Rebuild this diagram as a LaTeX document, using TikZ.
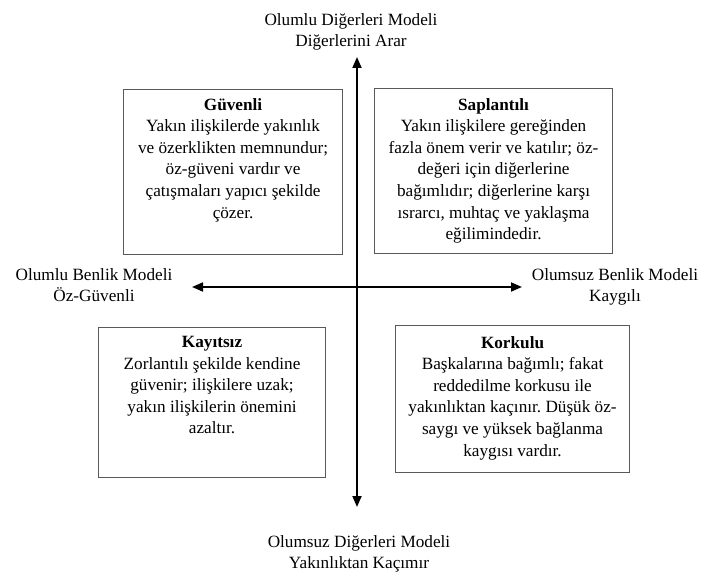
\documentclass[tikz,border=0pt]{standalone}
\usepackage{fontspec}
\setmainfont{Liberation Serif}
\usetikzlibrary{arrows.meta}
\frenchspacing
\begin{document}
\begin{tikzpicture}[x=1pt,y=-1pt,
  box/.style={draw=black!65,line width=1.1pt,inner sep=0pt,anchor=north west},
  boxtext/.style={align=center,inner sep=0pt,anchor=north,font=\fontsize{17.2}{21.6}\selectfont},
  lbl/.style={align=center,inner sep=0pt,anchor=north,font=\fontsize{17.2}{21.6}\selectfont},
  axis/.style={line width=1.8pt,{Triangle[length=11pt,width=9pt]}-{Triangle[length=11pt,width=9pt]}}]
\useasboundingbox (0,0) rectangle (702,572);
% boxes
\node[box,minimum width=219pt,minimum height=165pt] (g) at (123,89) {};
\node[box,minimum width=238pt,minimum height=165pt] (s) at (374,88) {};
\node[box,minimum width=227pt,minimum height=150pt] (k) at (98,327) {};
\node[box,minimum width=234pt,minimum height=147pt] (f) at (395,325) {};
% box texts
\node[boxtext] (gt) at ([yshift=-9pt]g.north) {\textbf{Güvenli}\\Yakın ilişkilerde yakınlık\\ve özerklikten memnundur;\\öz-güveni vardır ve\\çatışmaları yapıcı şekilde\\çözer.};
\node[boxtext] (st) at ([yshift=-10pt]s.north) {\textbf{Saplantılı}\\Yakın ilişkilere gereğinden\\fazla önem verir ve katılır; öz-\\değeri için diğerlerine\\bağımlıdır; diğerlerine karşı\\ısrarcı, muhtaç ve yaklaşma\\eğilimindedir.};
\node[boxtext] (kt) at ([yshift=-9pt]k.north) {\textbf{Kayıtsız}\\Zorlantılı şekilde kendine\\güvenir; ilişkilere uzak;\\yakın ilişkilerin önemini\\azaltır.};
\node[boxtext] (ft) at ([yshift=-11pt]f.north) {\textbf{Korkulu}\\Başkalarına bağımlı; fakat\\reddedilme korkusu ile\\yakınlıktan kaçınır. Düşük öz-\\saygı ve yüksek bağlanma\\kaygısı vardır.};
% axis labels
\node[lbl] (tl) at (351,13) {Olumlu Diğerleri Modeli\\Diğerlerini Arar};
\node[lbl] (bl) at (359,535) {Olumsuz Diğerleri Modeli\\Yakınlıktan Kaçımır};
\node[lbl] (ll) at (94,268) {Olumlu Benlik Modeli\\Öz-Güvenli};
\node[lbl] (rl) at (615,268) {Olumsuz Benlik Modeli\\Kaygılı};
% axes
\coordinate (ytop) at (357,57);
\coordinate (ybot) at (357,507);
\coordinate (xl) at (192,287);
\coordinate (xr) at (522,287);
\draw[axis] (ytop) -- (ybot);
\draw[axis] (xl) -- (xr);
\end{tikzpicture}
\end{document}
